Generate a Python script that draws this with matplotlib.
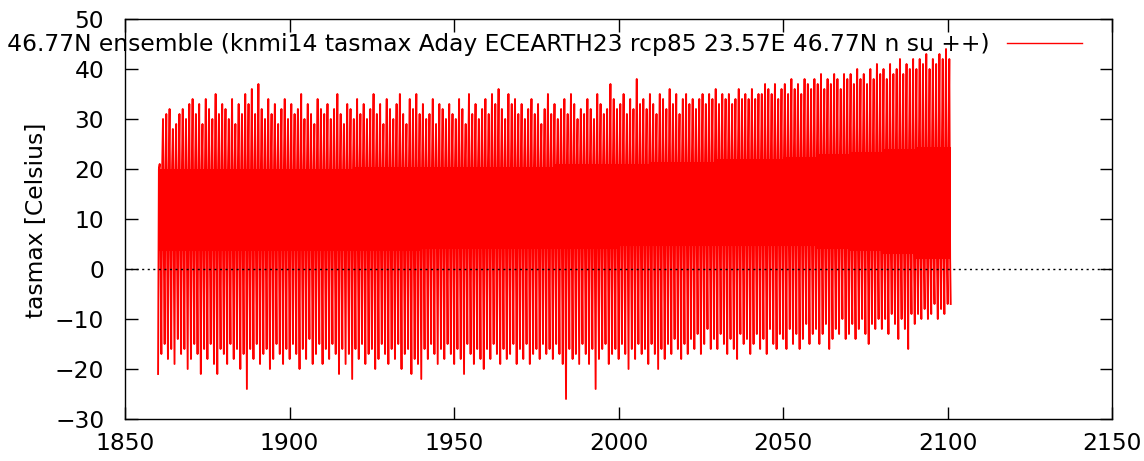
import matplotlib
matplotlib.use('Agg')
import matplotlib.pyplot as plt
import numpy as np

# daily tasmax, summarised per year
years = np.arange(1860, 2101)

tmax_year = [
    21, 30, 31, 32, 28, 29, 31, 32, 30, 33,
    34, 31, 33, 29, 34, 32, 30, 35, 31, 33,
    32, 30, 34, 29, 33, 31, 35, 33, 36, 31,
    37, 32, 30, 34, 31, 33, 29, 32, 34, 30,
    33, 31, 32, 35, 30, 33, 31, 29, 34, 32,
    31, 33, 30, 32, 35, 31, 29, 33, 32, 30,
    34, 31, 33, 30, 32, 35, 31, 33, 29, 34,
    32, 30, 33, 35, 31, 29, 34, 32, 35, 31,
    33, 30, 31, 34, 29, 33, 32, 30, 33, 31,
    30, 34, 32, 29, 35, 31, 33, 30, 32, 34,
    31, 35, 33, 36, 32, 30, 35, 33, 34, 31,
    33, 30, 32, 34, 31, 33, 29, 32, 35, 31,
    33, 30, 32, 34, 31, 35, 33, 30, 32, 31,
    34, 32, 30, 35, 33, 31, 32, 37, 34, 32,
    33, 35, 31, 34, 32, 38, 33, 34, 32, 35,
    33, 31, 35, 34, 32, 36, 33, 35, 31, 34,
    35, 33, 34, 32, 34, 35, 33, 35, 34, 36,
    33, 35, 34, 35, 33, 34, 36, 34, 35, 34,
    36, 34, 35, 35, 37, 36, 35, 37, 34, 36,
    37, 35, 38, 36, 37, 35, 38, 37, 36, 38,
    37, 39, 36, 38, 37, 39, 38, 36, 39, 38,
    39, 37, 40, 38, 39, 37, 40, 38, 41, 39,
    40, 38, 41, 39, 40, 42, 39, 41, 40, 42,
    40, 42, 41, 43, 40, 42, 41, 43, 42, 44,
    42,
]

tmin_year = [
    -21, -17, -15, -18, -16, -19, -14, -17, -16, -20,
    -18, -15, -17, -21, -16, -18, -15, -19, -21, -16,
    -17, -19, -15, -18, -16, -20, -17, -24, -16, -18,
    -15, -19, -17, -16, -20, -18, -15, -17, -19, -16,
    -18, -15, -17, -20, -16, -18, -14, -19, -17, -15,
    -19, -16, -18, -15, -17, -21, -16, -19, -17, -22,
    -16, -18, -15, -19, -17, -16, -20, -18, -15, -17,
    -19, -16, -18, -15, -20, -17, -16, -21, -18, -19,
    -22, -16, -18, -15, -17, -19, -16, -18, -15, -17,
    -19, -16, -18, -21, -15, -17, -19, -16, -18, -20,
    -16, -18, -15, -17, -19, -16, -18, -17, -15, -19,
    -16, -18, -15, -19, -17, -16, -18, -15, -17, -16,
    -18, -15, -17, -19, -26, -16, -18, -17, -19, -15,
    -17, -19, -16, -24, -18, -16, -15, -19, -17, -16,
    -18, -15, -17, -20, -16, -18, -15, -17, -16, -19,
    -15, -17, -20, -16, -18, -15, -17, -14, -16, -18,
    -15, -17, -14, -16, -13, -17, -15, -12, -16, -14,
    -16, -13, -15, -17, -14, -16, -18, -13, -15, -14,
    -17, -15, -13, -16, -14, -17, -12, -15, -16, -13,
    -14, -16, -12, -15, -13, -16, -14, -11, -15, -13,
    -12, -15, -13, -11, -16, -14, -12, -13, -10, -14,
    -13, -11, -14, -12, -10, -13, -15, -11, -12, -10,
    -12, -10, -13, -9, -11, -14, -10, -12, -16, -9,
    -11, -9, -10, -8, -10, -9, -7, -10, -8, -9,
    -7,
]

# band that is always covered by the daily line, per decade
decades = list(range(1860, 2101, 10))
core_hi = [20, 20, 20, 20, 20, 20, 20.5, 20.5, 20.5, 20.5, 20.5, 20.5, 21,
           21, 21, 21.5, 21.5, 22, 22, 22.5, 23, 23.5, 24, 24.5, 24.5]
core_lo = [3.5, 3.5, 3.5, 3.5, 3.5, 3.5, 3.5, 3.5, 4, 4, 4, 4, 4, 4, 4.5,
           4.5, 4.5, 4.5, 4.5, 4.5, 4, 3.5, 3, 2, 2]

label = ('ECEARTH23 rcp85 23.57E 46.77N ensemble (knmi14 tasmax Aday '
         'ECEARTH23 rcp85 23.57E 46.77N n su ++)')

# seasonal cycle: winter low -> spring -> summer high -> autumn
t = []
v = []
for i, y in enumerate(years):
    k = (y - 1860) // 10
    t += [y + 0.05, y + 0.3, y + 0.55, y + 0.8]
    v += [tmin_year[i], core_hi[k], tmax_year[i], core_lo[k]]
t.append(2100.98)
v.append(tmin_year[-1])

plt.rcParams['font.family'] = 'DejaVu Sans'
plt.rcParams['font.size'] = 16.8

fig = plt.figure(figsize=(11.44, 4.61), dpi=100)
ax = fig.add_axes([125 / 1144, 1 - 419 / 461, (1112 - 125) / 1144, 400 / 461])

ax.fill_between(decades + [2101], core_lo + [core_lo[-1]], core_hi + [core_hi[-1]],
                step='post', color='red', lw=0)
ax.plot(t, v, color='red', lw=1.35, label=label)
ax.axhline(0, color='black', ls=(0, (1.5, 2.5)), lw=1.0, zorder=3)

ax.set_xlim(1850, 2150)
ax.set_ylim(-30, 50)
ax.set_xticks(range(1850, 2151, 50))
ax.set_yticks(range(-30, 51, 10))
ax.tick_params(direction='in', length=9, width=1, top=True, right=True)
ax.tick_params(axis='x', pad=9.5)
ax.tick_params(axis='y', pad=15)
for s in ax.spines.values():
    s.set_linewidth(1.0)
fig.text(37 / 1144, 1 - 220 / 461, 'tasmax [Celsius]', rotation=90,
         ha='center', va='center')

leg = ax.legend(loc='center right', bbox_to_anchor=(1082 / 1144, 1 - 45 / 461),
                bbox_transform=fig.transFigure, frameon=False, markerfirst=False,
                handlelength=3.2, handletextpad=0.75, borderpad=0, borderaxespad=0)
leg.get_lines()[0].set_linewidth(1.0)

fig.savefig('out.png', dpi=100)
